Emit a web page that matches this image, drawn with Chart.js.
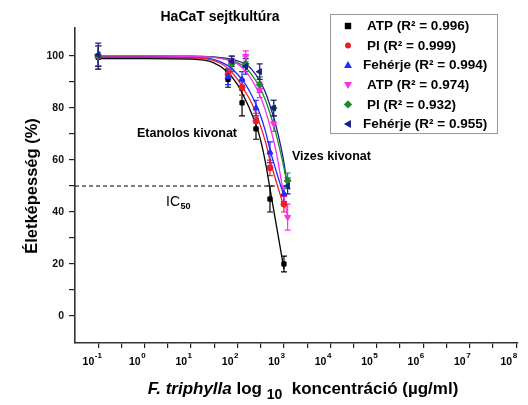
<!DOCTYPE html>
<html>
<head>
<meta charset="utf-8">
<script src="https://cdn.jsdelivr.net/npm/chart.js@4/dist/chart.umd.min.js"></script>
<style>
  html, body { margin: 0; padding: 0; background: #fff; }
  canvas { display: block; }
</style>
</head>
<body>
<canvas id="c" width="528" height="405"></canvas>
<script>
// Concentrations (µg/ml)
const concEtanol = [0.1, 62.5, 125, 250, 500, 1000];
const concVizes  = [0.1, 75, 150, 300, 600, 1200];

// Viability (%) and standard deviations – ethanolic extract
const atpEtanol    = [99.5, 91, 82, 72, 45, 20];
const atpEtanolSd  = [4.5, 3, 5, 4, 5, 3];
const piEtanol     = [100, 93, 88, 75, 57, 43];
const piEtanolSd   = [4, 2, 3, 3, 3, 3];
const fehEtanol    = [100, 92, 91, 80, 63, 47];
const fehEtanolSd  = [4, 3, 3, 3, 4, 3];

// Viability (%) and standard deviations – aqueous extract
const atpVizes     = [100, 97, 100, 87, 74, 38];
const atpVizesSd   = [4, 2, 2, 3, 3, 5];
const piVizes      = [100, 97, 97, 89, 80, 52];
const piVizesSd    = [4, 3, 3, 3, 3, 3];
const fehVizes     = [100.5, 98, 96, 94, 80, 50];
const fehVizesSd   = [4.5, 2, 3, 3, 3, 3];

// Fitted dose–response curves
const fitConcEtanol = [0.1, 1, 10, 30, 60, 100, 150, 200, 300, 400, 500, 700, 1000];
const fitAtpEtanol  = [99, 99, 98.8, 97.5, 94, 89, 83, 78, 69, 59, 49, 34, 18];
const fitPiEtanol   = [99.5, 99.5, 99.3, 98.3, 95.5, 91, 86, 82, 74, 67, 60, 51, 42];
const fitFehEtanol  = [99.5, 99.5, 99.4, 98.7, 96.5, 93, 89, 85, 78, 71, 64, 55, 46];
const fitConcVizes  = [0.1, 1, 10, 30, 60, 100, 150, 200, 300, 400, 500, 700, 1000, 1200];
const fitAtpVizes   = [100, 100, 99.9, 99.5, 98.5, 97, 94, 91, 85, 79, 73, 62, 46, 38];
const fitPiVizes    = [100, 100, 99.9, 99.6, 98.7, 97.5, 95.5, 93, 88, 83, 78, 69, 57, 50];
const fitFehVizes   = [100, 100, 100, 99.7, 99.1, 98.2, 96.8, 95, 90.5, 86, 81, 72, 59, 49];

// Legend labels
const seriesLabels = [
  'ATP (R² = 0.996)', 'PI (R² = 0.999)', 'Fehérje (R² = 0.994)',
  'ATP (R² = 0.974)', 'PI (R² = 0.932)', 'Fehérje (R² = 0.955)'
];

// Axis tick exponents (decades)
const xDecades = [-1, 0, 1, 2, 3, 4, 5, 6, 7, 8];
const yTickLabels = [0, 20, 40, 60, 80, 100];
const icLevel = 50;

const FONT = '"Liberation Sans", Arial, Helvetica, sans-serif';

const series = [
  { label: seriesLabels[0], conc: concEtanol, values: atpEtanol, sd: atpEtanolSd, fitConc: fitConcEtanol, fit: fitAtpEtanol, color: '#000000', style: 'rect', rot: 0, r: 3 },
  { label: seriesLabels[1], conc: concEtanol, values: piEtanol,  sd: piEtanolSd,  fitConc: fitConcEtanol, fit: fitPiEtanol,  color: '#e8202a', style: 'circle', rot: 0, r: 3 },
  { label: seriesLabels[2], conc: concEtanol, values: fehEtanol, sd: fehEtanolSd, fitConc: fitConcEtanol, fit: fitFehEtanol, color: '#1f2bff', style: 'triangle', rot: 0, r: 3.5 },
  { label: seriesLabels[3], conc: concVizes,  values: atpVizes,  sd: atpVizesSd,  fitConc: fitConcVizes,  fit: fitAtpVizes,  color: '#ff2cf0', style: 'triangle', rot: 180, r: 3.5 },
  { label: seriesLabels[4], conc: concVizes,  values: piVizes,   sd: piVizesSd,   fitConc: fitConcVizes,  fit: fitPiVizes,   color: '#1d8a2a', style: 'rectRot', rot: 0, r: 3.5 },
  { label: seriesLabels[5], conc: concVizes,  values: fehVizes,  sd: fehVizesSd,  fitConc: fitConcVizes,  fit: fitFehVizes,  color: '#1c1c8c', style: 'triangle', rot: -90, r: 3.5 }
];

// Marker datasets first (drawn on top), fitted curves after
const datasets = [];
series.slice().reverse().forEach(s => {
  datasets.push({
    label: s.label,
    data: s.conc.map((c, i) => ({ x: c, y: s.values[i] })),
    showLine: false,
    pointStyle: s.style,
    rotation: s.rot,
    pointRadius: s.r,
    pointBackgroundColor: s.color,
    pointBorderColor: s.color,
    pointBorderWidth: 1
  });
});
series.forEach(s => {
  datasets.push({
    label: s.label + ' fit',
    data: s.fitConc.map((c, i) => ({ x: c, y: s.fit[i] })),
    showLine: true,
    pointRadius: 0,
    borderColor: s.color,
    borderWidth: 1.3,
    cubicInterpolationMode: 'monotone',
    fill: false
  });
});

const errorBars = {
  id: 'errorBars',
  beforeDatasetsDraw(chart) {
    const { ctx, scales: { x, y } } = chart;
    ctx.save();
    ctx.lineWidth = 1.2;
    series.forEach(s => {
      ctx.strokeStyle = s.color;
      s.conc.forEach((c, i) => {
        const px = x.getPixelForValue(c);
        const top = y.getPixelForValue(s.values[i] + s.sd[i]);
        const bot = y.getPixelForValue(s.values[i] - s.sd[i]);
        ctx.beginPath();
        ctx.moveTo(px, top); ctx.lineTo(px, bot);
        ctx.moveTo(px - 3, top); ctx.lineTo(px + 3, top);
        ctx.moveTo(px - 3, bot); ctx.lineTo(px + 3, bot);
        ctx.stroke();
      });
    });
    ctx.restore();
  }
};

function drawMarker(ctx, style, rot, x, y, r, color) {
  ctx.save();
  ctx.fillStyle = color;
  ctx.translate(x, y);
  ctx.rotate(rot * Math.PI / 180);
  ctx.beginPath();
  if (style === 'rect') {
    ctx.rect(-r, -r, 2 * r, 2 * r);
  } else if (style === 'circle') {
    ctx.arc(0, 0, r, 0, Math.PI * 2);
  } else if (style === 'rectRot') {
    ctx.moveTo(0, -r * 1.3); ctx.lineTo(r * 1.3, 0); ctx.lineTo(0, r * 1.3); ctx.lineTo(-r * 1.3, 0); ctx.closePath();
  } else {
    const h = r * 1.3;
    ctx.moveTo(0, -h); ctx.lineTo(h * 0.95, h * 0.7); ctx.lineTo(-h * 0.95, h * 0.7); ctx.closePath();
  }
  ctx.fill();
  ctx.restore();
}

const decorations = {
  id: 'decorations',
  afterDraw(chart) {
    const { ctx, chartArea, scales: { x, y } } = chart;
    ctx.save();
    ctx.fillStyle = '#000';

    // Title
    ctx.font = 'bold 14px ' + FONT;
    ctx.textAlign = 'center';
    ctx.textBaseline = 'alphabetic';
    ctx.fillText('HaCaT sejtkultúra', 220, 21);

    // Extract labels
    ctx.font = 'bold 12.5px ' + FONT;
    ctx.textAlign = 'left';
    ctx.fillText('Etanolos kivonat', 137, 137);
    ctx.fillText('Vizes kivonat', 292, 160);

    // IC50 reference line
    const yIc = y.getPixelForValue(icLevel);
    ctx.strokeStyle = '#000';
    ctx.lineWidth = 1;
    ctx.setLineDash([4, 3]);
    ctx.beginPath();
    ctx.moveTo(chartArea.left, yIc);
    ctx.lineTo(x.getPixelForValue(750), yIc);
    ctx.stroke();
    ctx.setLineDash([]);
    ctx.font = '14px ' + FONT;
    ctx.fillText('IC', 166, 206);
    const icW = ctx.measureText('IC').width;
    ctx.font = 'bold 9px ' + FONT;
    ctx.fillText('50', 166 + icW + 0.5, 209);

    // X tick labels 10^n
    xDecades.forEach(e => {
      const px = x.getPixelForValue(Math.pow(10, e));
      ctx.font = 'bold 10.5px ' + FONT;
      ctx.textAlign = 'right';
      ctx.fillText('10', px - 4, 365);
      ctx.font = 'bold 8px ' + FONT;
      ctx.textAlign = 'left';
      ctx.fillText(e < 0 ? '-' + (-e) : String(e), px - 3.5, 358);
    });

    // X axis title
    const parts = [
      { t: 'F. triphylla', f: 'italic bold 17px ' + FONT, dy: 0 },
      { t: ' log ', f: 'bold 17px ' + FONT, dy: 0 },
      { t: '10', f: 'bold 14px ' + FONT, dy: 5 },
      { t: '  koncentráció (µg/ml)', f: 'bold 17px ' + FONT, dy: 0 }
    ];
    let total = 0;
    parts.forEach(p => { ctx.font = p.f; p.w = ctx.measureText(p.t).width; total += p.w; });
    let cx = 303 - total / 2;
    ctx.textAlign = 'left';
    parts.forEach(p => { ctx.font = p.f; ctx.fillText(p.t, cx, 394 + p.dy); cx += p.w; });

    // Y axis title
    ctx.save();
    ctx.translate(32, 186);
    ctx.rotate(-Math.PI / 2);
    ctx.font = 'bold 16.5px ' + FONT;
    ctx.textAlign = 'center';
    ctx.textBaseline = 'middle';
    ctx.fillText('Életképesség (%)', 0, 0);
    ctx.restore();

    // Legend
    ctx.strokeStyle = '#9a9a9a';
    ctx.lineWidth = 1;
    ctx.strokeRect(330.5, 14.5, 167, 119);
    series.forEach((s, i) => {
      const cy = 26 + i * 19.6;
      drawMarker(ctx, s.style, s.rot, 348, cy, s.style === 'circle' ? 3 : 3.2, s.color);
      ctx.fillStyle = '#000';
      ctx.font = 'bold 13.5px ' + FONT;
      ctx.textAlign = 'left';
      ctx.textBaseline = 'middle';
      ctx.fillText(s.label, s.label.startsWith('Feh') ? 363 : 367, cy + 0.5);
    });
    ctx.restore();
  }
};

new Chart(document.getElementById('c'), {
  type: 'scatter',
  data: { datasets },
  plugins: [errorBars, decorations],
  options: {
    responsive: false,
    animation: false,
    events: [],
    layout: { padding: { top: 28, right: 10, bottom: 0, left: 0 } },
    plugins: { legend: { display: false }, tooltip: { enabled: false }, title: { display: false } },
    scales: {
      x: {
        type: 'logarithmic',
        min: Math.pow(10, -1.5),
        max: Math.pow(10, 8.04),
        afterBuildTicks(scale) {
          const t = [];
          for (let k = -2; k <= 16; k++) t.push({ value: Math.pow(10, k / 2) });
          scale.ticks = t;
        },
        afterFit(scale) { scale.height = 62; },
        ticks: { display: false },
        grid: { drawOnChartArea: false, drawTicks: true, tickLength: 5, color: '#222', lineWidth: 1.2 },
        border: { display: true, color: '#333', width: 1.6 }
      },
      y: {
        min: -10.4,
        max: 110.8,
        afterBuildTicks(scale) {
          const t = [];
          for (let v = 0; v <= 100; v += 10) t.push({ value: v });
          scale.ticks = t;
        },
        afterFit(scale) { scale.width = 75; },
        ticks: {
          color: '#111',
          padding: 5,
          font: { family: FONT, size: 10.5, weight: 'bold' },
          callback: v => (yTickLabels.includes(v) ? String(v) : '')
        },
        grid: { drawOnChartArea: false, drawTicks: true, tickLength: 6, color: '#222', lineWidth: 1.2 },
        border: { display: true, color: '#333', width: 1.6 }
      }
    }
  }
});
</script>
</body>
</html>
